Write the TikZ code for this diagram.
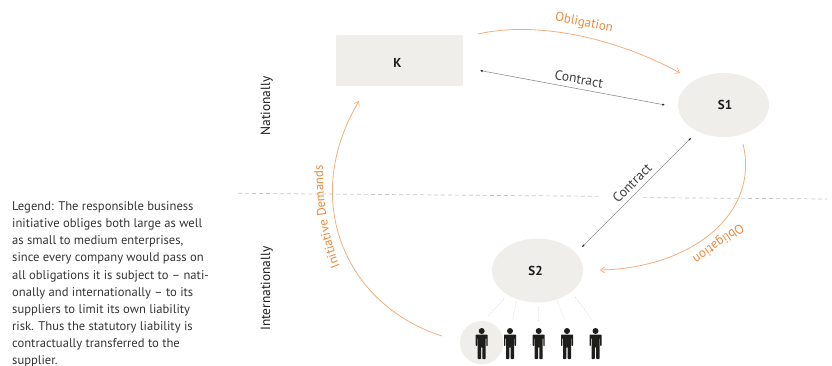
\documentclass[tikz,border=0pt]{standalone}
\usepackage{fontspec}
\setmainfont{PT Sans}
\usetikzlibrary{arrows.meta,decorations.text,shapes.geometric}
\definecolor{boxgray}{HTML}{EFEEEB}
\definecolor{orangetext}{HTML}{EC8A3E}
\definecolor{orangeline}{HTML}{F4AE7C}
\definecolor{inkdark}{HTML}{1D1D1B}
\definecolor{linegray}{HTML}{8F8F8D}
\definecolor{dashgray}{HTML}{C4C4C2}
\tikzset{
  x=1pt,y=-1pt,
  actorshape/.style={fill=boxgray,draw=none,text=inkdark,font=\fontsize{13}{15}\selectfont\bfseries},
  oblig/.style={draw=orangeline,line width=0.8pt,-{Straight Barb[length=4pt,width=6pt,line width=0.7pt]}},
  contractline/.style={draw=linegray,line width=0.6pt,{Latex[length=2.6pt,width=2.4pt,color=inkdark]}-{Latex[length=2.6pt,width=2.4pt,color=inkdark]}},
  orangelabel/.style={text=orangetext,font=\fontsize{13}{15}\selectfont,inner sep=0pt},
  contractlabel/.style={text=inkdark!85,font=\fontsize{13.6}{15}\selectfont,inner sep=0pt},
  sidelabel/.style={text=inkdark,font=\fontsize{13.4}{15}\selectfont,rotate=90,inner sep=0pt},
  divider/.style={draw=dashgray,line width=0.7pt,dash pattern=on 4pt off 3pt},
  ray/.style={draw=dashgray!80,line width=0.5pt,dash pattern=on 1pt off 1.5pt},
  person/.pic={
    \fill[inkdark] (0,-12) circle[radius=3];
    \fill[inkdark,rounded corners=0.7pt] (-6,-8.5) -- (6,-8.5) -- (6,3) -- (4.6,3) -- (4.6,-5) -- (4,-5) -- (4,16) -- (0.6,16) -- (0.6,4) -- (-0.6,4) -- (-0.6,16) -- (-4,16) -- (-4,-5) -- (-4.6,-5) -- (-4.6,3) -- (-6,3) -- cycle;
  }
}
\begin{document}
\begin{tikzpicture}
\useasboundingbox (0,0) rectangle (832,365);
% nodes
\node[actorshape,rounded corners=1pt,minimum width=127pt,minimum height=51pt] (k) at (399.5,60.5) {\hspace{-4pt}\raisebox{-2pt}[\height][0pt]{K}};
\node[actorshape,ellipse,minimum width=91pt,minimum height=64pt] (s1) at (723.5,105) {\hspace{3pt}S1};
\node[actorshape,ellipse,minimum width=91pt,minimum height=64pt] (s2) at (537.5,270.5) {\hspace{-4pt}S2};
\node[fill=boxgray,circle,minimum size=43.5pt,inner sep=0pt] (focus) at (481.7,342.7) {};
% divider
\coordinate (dl) at (238,193.3);
\coordinate (dm1) at (598,196.3);
\coordinate (dm2) at (643,197.6);
\coordinate (dr) at (827,199);
\draw[divider] (dl) -- (dm1);
\draw[divider] (dm2) -- (dr);
% rays
\coordinate (r1a) at (504,299.3); \coordinate (r1b) at (487.3,316.7);
\coordinate (r2a) at (516.3,301); \coordinate (r2b) at (512.7,319.3);
\coordinate (r3a) at (538.3,307.3); \coordinate (r3b) at (538.7,321.7);
\coordinate (r4a) at (557,301); \coordinate (r4b) at (565,320);
\coordinate (r5a) at (575.3,297.3); \coordinate (r5b) at (593.3,321.7);
\foreach \n in {1,...,5} \draw[ray] (r\n a) -- (r\n b);
% people
\foreach \px/\pn in {481.7/p1,510/p2,538.7/p3,567/p4,595.5/p5}
  \pic (\pn) at (\px,343) {person};
% connector ends
\coordinate (ob1s) at (478,34);
\coordinate (ob1e) at (680,73);
\coordinate (c1a) at (480,70.5);
\coordinate (c1b) at (665,105);
\coordinate (c2a) at (691,138);
\coordinate (c2b) at (582,247);
\coordinate (ob2s) at (743,144);
\coordinate (ob2e) at (600,270);
\coordinate (ids) at (442,336);
\coordinate (ide) at (359,101);
% connectors
\draw[oblig] (ob1s) .. controls (540,20) and (620,40) .. (ob1e);
\draw[contractline] (c1a) -- (c1b);
\draw[contractline] (c2a) -- (c2b);
\draw[oblig] (ob2s) .. controls (760,215) and (690,268) .. (ob2e);
\draw[oblig] (ids) .. controls (345,305) and (300,200) .. (ide);
% labels
\node[orangelabel,rotate=-11] (l1) at (584,23) {Obligation};
\node[contractlabel,rotate=-10] (l2) at (579,79) {Contract};
\node[contractlabel,rotate=45] (l3) at (632,183) {Contract};
\node[orangelabel,rotate=215] (l4) at (718,243) {Obligation};
\path[postaction={decorate,decoration={text along path,text align=center,
  text={|\fontsize{12.8}{14}\selectfont\color{orangetext}|Initiative Demands}}}]
  (342,271) .. controls (330,245) and (322,205) .. (323,160);
\node[sidelabel] (nat) at (266.7,106) {Nationally};
\node[sidelabel] (int) at (266.7,288.5) {Internationally};
\node[anchor=north west,inner sep=0pt,align=left,text=inkdark!90,
  font=\fontsize{12.6}{17.1}\selectfont] (legend) at (12,201.5)
  {Legend: The responsible business\\
   initiative obliges both large as well\\
   as small to medium enterprises,\\
   since every company would pass on\\
   all obligations it is subject to – nati-\\
   onally and internationally – to its\\
   suppliers to limit its own liability\\
   risk. Thus the statutory liability is\\
   contractually transferred to the\\
   supplier.};
\end{tikzpicture}
\end{document}
